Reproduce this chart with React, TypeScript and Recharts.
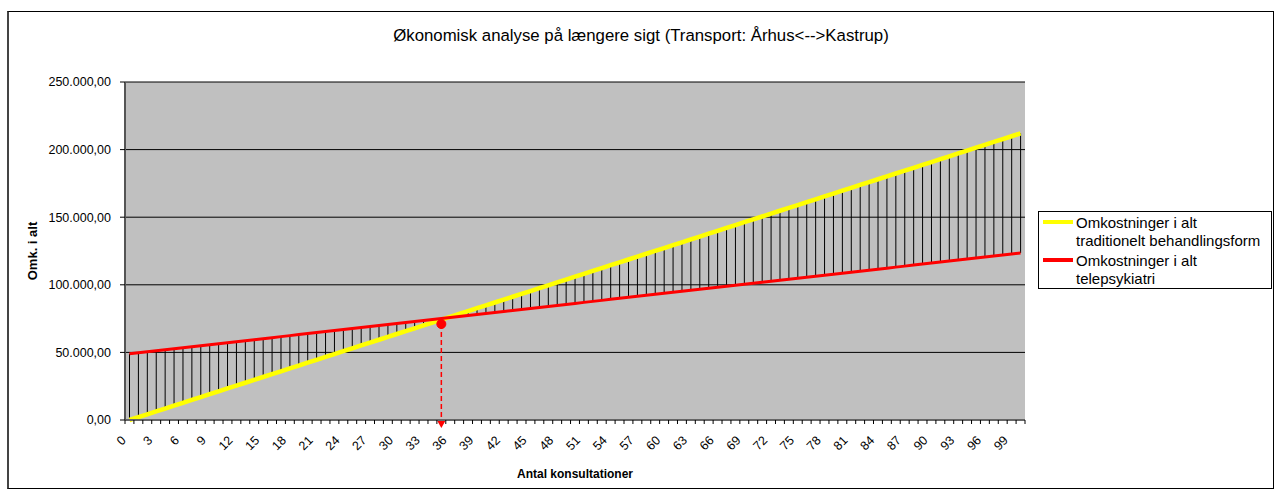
import React from 'react';
import { ComposedChart, Bar, Line, XAxis, YAxis, CartesianGrid, Legend, ReferenceLine, ReferenceDot } from 'recharts';

const categories = [
  0, 1, 2, 3, 4, 5, 6, 7, 8, 9, 10, 11, 12, 13, 14, 15, 16, 17, 18, 19,
  20, 21, 22, 23, 24, 25, 26, 27, 28, 29, 30, 31, 32, 33, 34, 35, 36, 37, 38, 39,
  40, 41, 42, 43, 44, 45, 46, 47, 48, 49, 50, 51, 52, 53, 54, 55, 56, 57, 58, 59,
  60, 61, 62, 63, 64, 65, 66, 67, 68, 69, 70, 71, 72, 73, 74, 75, 76, 77, 78, 79,
  80, 81, 82, 83, 84, 85, 86, 87, 88, 89, 90, 91, 92, 93, 94, 95, 96, 97, 98, 99, 100,
];

// Omkostninger i alt, traditionelt behandlingsform
const traditionalCost = [
  0, 2120, 4240, 6360, 8480, 10600, 12720, 14840, 16960, 19080,
  21200, 23320, 25440, 27560, 29680, 31800, 33920, 36040, 38160, 40280,
  42400, 44520, 46640, 48760, 50880, 53000, 55120, 57240, 59360, 61480,
  63600, 65720, 67840, 69960, 72080, 74200, 76320, 78440, 80560, 82680,
  84800, 86920, 89040, 91160, 93280, 95400, 97520, 99640, 101760, 103880,
  106000, 108120, 110240, 112360, 114480, 116600, 118720, 120840, 122960, 125080,
  127200, 129320, 131440, 133560, 135680, 137800, 139920, 142040, 144160, 146280,
  148400, 150520, 152640, 154760, 156880, 159000, 161120, 163240, 165360, 167480,
  169600, 171720, 173840, 175960, 178080, 180200, 182320, 184440, 186560, 188680,
  190800, 192920, 195040, 197160, 199280, 201400, 203520, 205640, 207760, 209880,
  212000,
];

// Omkostninger i alt, telepsykiatri
const telepsychiatryCost = [
  49000, 49745, 50490, 51235, 51980, 52725, 53470, 54215, 54960, 55705,
  56450, 57195, 57940, 58685, 59430, 60175, 60920, 61665, 62410, 63155,
  63900, 64645, 65390, 66135, 66880, 67625, 68370, 69115, 69860, 70605,
  71350, 72095, 72840, 73585, 74330, 75075, 75820, 76565, 77310, 78055,
  78800, 79545, 80290, 81035, 81780, 82525, 83270, 84015, 84760, 85505,
  86250, 86995, 87740, 88485, 89230, 89975, 90720, 91465, 92210, 92955,
  93700, 94445, 95190, 95935, 96680, 97425, 98170, 98915, 99660, 100405,
  101150, 101895, 102640, 103385, 104130, 104875, 105620, 106365, 107110, 107855,
  108600, 109345, 110090, 110835, 111580, 112325, 113070, 113815, 114560, 115305,
  116050, 116795, 117540, 118285, 119030, 119775, 120520, 121265, 122010, 122755,
  123500,
];

const xTickLabels = [
  0, 3, 6, 9, 12, 15, 18, 21, 24, 27, 30, 33, 36, 39, 42, 45, 48, 51, 54, 57,
  60, 63, 66, 69, 72, 75, 78, 81, 84, 87, 90, 93, 96, 99,
];
const yTicks = [0, 50000, 100000, 150000, 200000, 250000];

const breakEvenCategory = 35;
const breakEvenValue = 71000;

const seriesNames = [
  ['Omkostninger i alt', 'traditionelt behandlingsform'],
  ['Omkostninger i alt', 'telepsykiatri'],
];
const seriesColors = ['#FFFF00', '#FF0000'];

const data = categories.map((n, i) => ({
  n,
  trad: traditionalCost[i],
  tele: telepsychiatryCost[i],
  span: [Math.min(traditionalCost[i], telepsychiatryCost[i]), Math.max(traditionalCost[i], telepsychiatryCost[i])],
}));

const FONT = '"Liberation Sans", Arial, sans-serif';
const W = 1276;
const H = 491;
const PLOT_LEFT = 125;
const PLOT_RIGHT = 1025;
const PLOT_TOP = 82;
const PLOT_BOTTOM = 420;

const formatDk = (v: number) =>
  v.toFixed(2).replace('.', ',').replace(/\B(?=(\d{3})+(?!\d))/g, '.');

const XTick = (props: any) => {
  const { x, y, payload } = props;
  const half = (PLOT_RIGHT - PLOT_LEFT) / categories.length / 2;
  const isLast = payload.index === categories.length - 1;
  const ax = x - 6;
  const ay = y + 18;
  return (
    <g>
      <line x1={x - half} x2={x - half} y1={y} y2={y + 4} stroke="#000" />
      {isLast && <line x1={x + half} x2={x + half} y1={y} y2={y + 4} stroke="#000" />}
      {xTickLabels.includes(payload.value) && (
        <text
          x={ax}
          y={ay}
          dy="0.35em"
          textAnchor="end"
          transform={`rotate(-45, ${ax}, ${ay})`}
          fontSize={12.5}
          fontFamily={FONT}
          fill="#000"
        >
          {payload.value}
        </text>
      )}
    </g>
  );
};

const YLabel = (props: any) => {
  const { viewBox } = props;
  const cy = viewBox.y + viewBox.height / 2;
  return (
    <text
      x={32}
      y={cy}
      textAnchor="middle"
      dominantBaseline="central"
      transform={`rotate(-90, 32, ${cy})`}
      fontSize={13}
      fontWeight="bold"
      fontFamily={FONT}
      fill="#000"
    >
      Omk. i alt
    </text>
  );
};

const LegendBox = () => (
  <div
    style={{
      border: '1px solid #000',
      background: '#fff',
      padding: '2px 4px 1px 4px',
      fontFamily: FONT,
      fontSize: 15,
      lineHeight: '17.5px',
      color: '#000',
      boxSizing: 'border-box',
      width: 234,
      textAlign: 'left',
    }}
  >
    {seriesNames.map((lines, i) => (
      <div key={i} style={{ display: 'flex', marginBottom: i === 0 ? 3 : 0 }}>
        <div style={{ width: 30, height: 4, background: seriesColors[i], marginTop: 6, marginRight: 3, flexShrink: 0 }} />
        <div>
          {lines.map((t) => (
            <div key={t}>{t}</div>
          ))}
        </div>
      </div>
    ))}
  </div>
);

const Arrow = (props: any) => {
  const { cx, cy } = props;
  return <path d={`M${cx - 4},${cy + 1} L${cx + 4},${cy + 1} L${cx},${cy + 8} Z`} fill="#FF0000" />;
};

export default function App() {
  return (
    <div style={{ position: 'absolute', left: 0, top: 0, width: W, height: H, background: '#fff' }}>
      <div
        style={{
          position: 'absolute',
          left: 7,
          top: 11,
          width: 1267,
          height: 478,
          border: '1px solid #000',
          borderLeft: '2px solid #444',
          boxSizing: 'border-box',
        }}
      />
      <div
        style={{
          position: 'absolute',
          left: 7,
          width: 1268,
          top: 26,
          textAlign: 'center',
          fontFamily: FONT,
          fontSize: 16.8,
          color: '#000',
        }}
      >
        Økonomisk analyse på længere sigt (Transport: Århus&lt;--&gt;Kastrup)
      </div>
      <div style={{ position: 'absolute', left: 0, top: 0 }}>
        <ComposedChart
          width={W}
          height={H}
          data={data}
          margin={{ top: PLOT_TOP, right: W - PLOT_RIGHT, bottom: 0, left: 0 }}
          barCategoryGap={0}
        >
          <CartesianGrid vertical={false} stroke="#000" fill="#C0C0C0" fillOpacity={1} />
          <XAxis
            dataKey="n"
            type="category"
            interval={0}
            height={H - PLOT_BOTTOM}
            tickSize={0}
            tickMargin={0}
            tickLine={false}
            tick={<XTick />}
            axisLine={{ stroke: '#666', strokeWidth: 2 }}
            label={{
              value: 'Antal konsultationer',
              position: 'insideBottom',
              offset: 13,
              fontSize: 12,
              fontWeight: 'bold',
              fontFamily: FONT,
              fill: '#000',
            }}
          />
          <XAxis
            xAxisId="top"
            dataKey="n"
            orientation="top"
            height={0}
            tick={false}
            tickLine={false}
            axisLine={{ stroke: '#808080', strokeWidth: 1.5 }}
          />
          <YAxis
            domain={[0, 250000]}
            ticks={yTicks}
            width={PLOT_LEFT}
            tickFormatter={formatDk}
            tickSize={5}
            tickMargin={9}
            tickLine={{ stroke: '#000' }}
            axisLine={{ stroke: '#555', strokeWidth: 2 }}
            tick={{ fill: '#000', fontSize: 12.5, fontFamily: FONT }}
            label={<YLabel />}
          />
          <YAxis
            yAxisId="right"
            orientation="right"
            width={0}
            tick={false}
            tickLine={false}
            axisLine={{ stroke: '#808080', strokeWidth: 1.5 }}
          />
          <Bar dataKey="span" fill="#000" barSize={1} legendType="none" isAnimationActive={false} />
          <Line
            type="linear"
            dataKey="trad"
            name="Omkostninger i alt traditionelt behandlingsform"
            stroke={seriesColors[0]}
            strokeWidth={4.5}
            dot={false}
            activeDot={false}
            isAnimationActive={false}
          />
          <Line
            type="linear"
            dataKey="tele"
            name="Omkostninger i alt telepsykiatri"
            stroke={seriesColors[1]}
            strokeWidth={3}
            dot={false}
            activeDot={false}
            isAnimationActive={false}
          />
          <ReferenceLine
            segment={[
              { x: breakEvenCategory, y: breakEvenValue },
              { x: breakEvenCategory, y: 0 },
            ]}
            stroke="#FF0000"
            strokeDasharray="5 3"
            strokeWidth={1.5}
            ifOverflow="visible"
          />
          <ReferenceDot x={breakEvenCategory} y={0} shape={<Arrow />} ifOverflow="visible" />
          <ReferenceDot
            x={breakEvenCategory}
            y={breakEvenValue}
            r={4.5}
            fill="#FF0000"
            stroke="#FF0000"
            ifOverflow="visible"
          />
          <Legend
            layout="horizontal"
            verticalAlign="middle"
            align="center"
            content={<LegendBox />}
            wrapperStyle={{ position: 'absolute', left: 1038, top: 211, width: 234, margin: 0 }}
          />
        </ComposedChart>
      </div>
    </div>
  );
}
